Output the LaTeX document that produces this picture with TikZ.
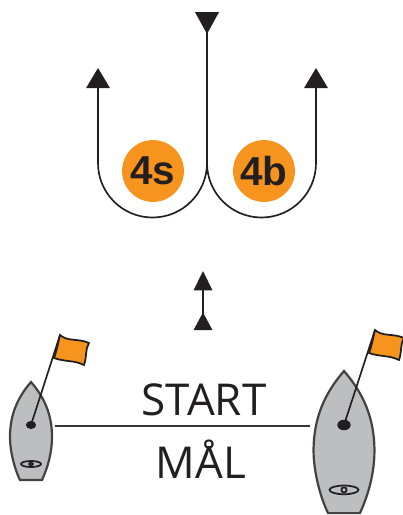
\documentclass[tikz,border=0pt]{standalone}
\usepackage{fontspec}
\setmainfont{Open Sans}
\newfontfamily\badgefont{Liberation Sans}[BoldFont={Liberation Sans Bold}]
\usetikzlibrary{arrows.meta,shapes.geometric}
\definecolor{inkblack}{HTML}{231F20}
\definecolor{flagorange}{HTML}{F7941D}
\definecolor{hullgrey}{HTML}{BCBEC0}
\tikzset{
route/.style={draw=inkblack, line width=0.95pt},
badge/.style={circle, fill=flagorange, minimum size=35.2pt, inner sep=0pt, text=inkblack,
  font=\badgefont\bfseries\fontsize{23}{26}\selectfont},
label/.style={anchor=base, inner sep=0pt, text=inkblack,
  font=\fontsize{25}{30}\selectfont},
mast/.style={ellipse, fill=inkblack, inner sep=0pt},
hull/.pic={
  \draw[fill=hullgrey, draw=inkblack!85, line width=1.25pt] (0,0)
    .. controls (-13,15) and (-21,32) .. (-21,55)
    .. controls (-21,70) and (-16,88) .. (-11,98)
    -- (11,98)
    .. controls (17,85) and (21,70) .. (21,55)
    .. controls (21,32) and (13,15) .. (0,0) -- cycle;
  \draw[line width=1pt, draw=inkblack] (0,82) circle [x radius=10, y radius=3];
  \draw[line width=1pt, draw=inkblack] (0,82) circle [radius=1.8];
  },
flag/.pic={
  \draw[fill=flagorange, draw=inkblack, line width=1pt] (0,0)
    .. controls (8,7) and (18,3) .. (29,8)
    .. controls (25,14) and (27,22) .. (24,30)
    .. controls (14,25) and (5,27) .. (-6,23)
    .. controls (-3,15) and (-2,8) .. (0,0) -- cycle;
  }
}
\begin{document}
\begin{tikzpicture}[x=0.02cm, y=-0.02cm]
\useasboundingbox (0,0) rectangle (403,515);

% course
\coordinate (top) at (207,12);
\coordinate (fork) at (207,163);
\coordinate (leftend) at (98,68);
\coordinate (rightend) at (316,68);

\node[badge] (fours) at (153,171) {4s};
\node[badge] (fourb) at (264,171) {4b};

\draw[route, {Triangle[reversed,width=13.5pt,length=12.5pt,fill=inkblack]}-] (top) -- (fork);
\draw[route, -{Triangle[width=13.5pt,length=11.5pt,fill=inkblack]}] (fork) arc [start angle=0, end angle=180, radius=54.5] -- (leftend);
\draw[route, -{Triangle[width=13.5pt,length=11.5pt,fill=inkblack]}] (fork) arc [start angle=180, end angle=0, radius=54.5] -- (rightend);

% start direction
\coordinate (dirlow) at (203,330);
\coordinate (dirhigh) at (203,271);
\draw[route, {Triangle[reversed,width=10.5pt,length=10pt,fill=inkblack]}-{Triangle[width=10.5pt,length=11pt,fill=inkblack]}] (dirlow) -- (dirhigh);

% boats
\pic at (31,382) {hull};
\pic[scale=1.45] at (344,371) {hull};

\coordinate (flagl) at (60,335);
\coordinate (flagr) at (375,330);
\pic at (flagl) {flag};
\pic at (flagr) {flag};

\node[mast, minimum width=5.8pt, minimum height=4.6pt] (mastl) at (31,425) {};
\node[mast, minimum width=7.6pt, minimum height=6pt] (mastr) at (344,425) {};
\draw[draw=inkblack, line width=0.95pt] (mastl.center) -- (flagl);
\draw[draw=inkblack, line width=0.95pt] (mastr.center) -- (flagr);

% line
\coordinate (linel) at (55,426);
\coordinate (liner) at (310,426);
\draw[draw=inkblack!90, line width=1.2pt] (linel) -- (liner);

\node[label] (start) at (204,415) {START};
\node[label] (maal) at (201,478) {MÅL};
\end{tikzpicture}
\end{document}
